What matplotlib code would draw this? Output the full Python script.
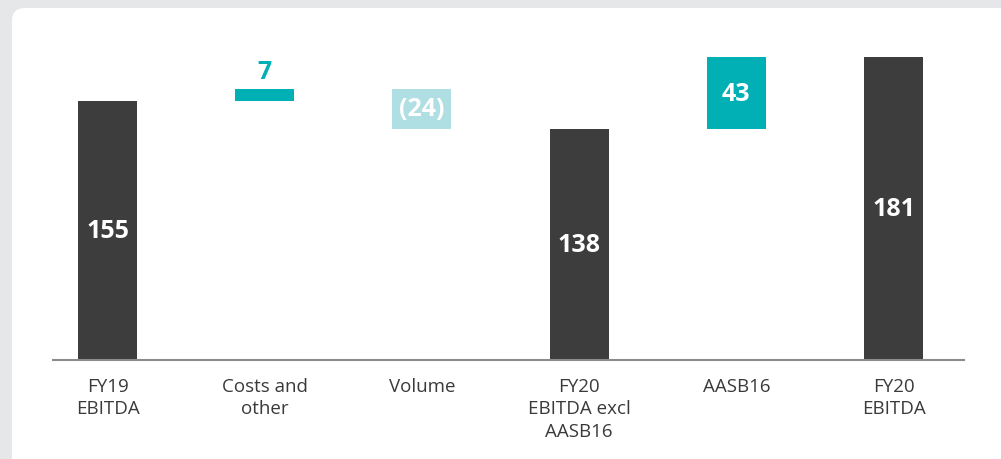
"""
EBITDA bridge FY19 -> FY20 (waterfall)
"""

import matplotlib.pyplot as plt
from matplotlib.patches import FancyBboxPatch

# Data
categories = ['FY19\nEBITDA', 'Costs and\nother', 'Volume',
              'FY20\nEBITDA excl\nAASB16', 'AASB16', 'FY20\nEBITDA']
values = [155, 7, -24, 138, 43, 181]
is_total = [True, False, False, True, False, True]
value_labels = ['155', '7', '(24)', '138', '43', '181']

# Colours
DARK = '#3d3d3d'
TEAL = '#00b0b5'
LIGHT_TEAL = '#b0dfe3'
TEXT = '#3a3a3a'
PAGE_BG = '#e6e7e9'

plt.rcParams['font.family'] = ['Open Sans', 'DejaVu Sans']


def waterfall_geometry(values, is_total):
    """Return bottoms and heights for each bar"""
    bottoms, heights, colors = [], [], []
    running = 0
    for v, total in zip(values, is_total):
        if total:
            bottoms.append(0)
            heights.append(v)
            colors.append(DARK)
            running = v
        else:
            if v >= 0:
                bottoms.append(running)
                colors.append(TEAL)
            else:
                bottoms.append(running + v)
                colors.append(LIGHT_TEAL)
            heights.append(abs(v))
            running += v
    return bottoms, heights, colors


fig = plt.figure(figsize=(10.01, 4.6), dpi=100, facecolor=PAGE_BG)

# white card behind the chart
card = FancyBboxPatch((12 / 1001, -0.1), 1.1, (460 - 9) / 460 + 0.1,
                      boxstyle='round,pad=0,rounding_size=0.013',
                      transform=fig.transFigure, facecolor='white',
                      edgecolor='none', zorder=-5, mutation_aspect=1001 / 460)
fig.patches.append(card)

ax = fig.add_axes([53 / 1001, (460 - 361) / 460, (964 - 53) / 1001, (361 - 40) / 460])
ax.set_facecolor('none')
ax.set_zorder(2)

bottoms, heights, colors = waterfall_geometry(values, is_total)
x = list(range(len(categories)))
ax.bar(x, heights, bottom=bottoms, color=colors, width=0.375, zorder=2)

for xi, b, h, lab, col in zip(x, bottoms, heights, value_labels, colors):
    if h < 15:
        # bar too thin for the label: put it just above, in the bar colour
        ax.text(xi, b + h + 3, lab, ha='center', va='bottom', color=col,
                fontsize=18, fontweight='bold', zorder=3)
    else:
        ax.text(xi, b + h / 2, lab, ha='center', va='center', color='white',
                fontsize=18, fontweight='bold', zorder=3)

ax.set_xlim(-0.347, 5.448)
ax.set_ylim(0, 191.8)
ax.set_xticks(x)
ax.set_xticklabels(categories, fontsize=13.5, color=TEXT, linespacing=1.32)
ax.tick_params(axis='x', length=0, pad=12)
ax.set_yticks([])

# Style
for side in ['top', 'right', 'left']:
    ax.spines[side].set_visible(False)
ax.spines['bottom'].set_color('#8c8c8c')
ax.spines['bottom'].set_linewidth(1.5)

plt.savefig('out.png', dpi=100, facecolor=PAGE_BG)
plt.close()
